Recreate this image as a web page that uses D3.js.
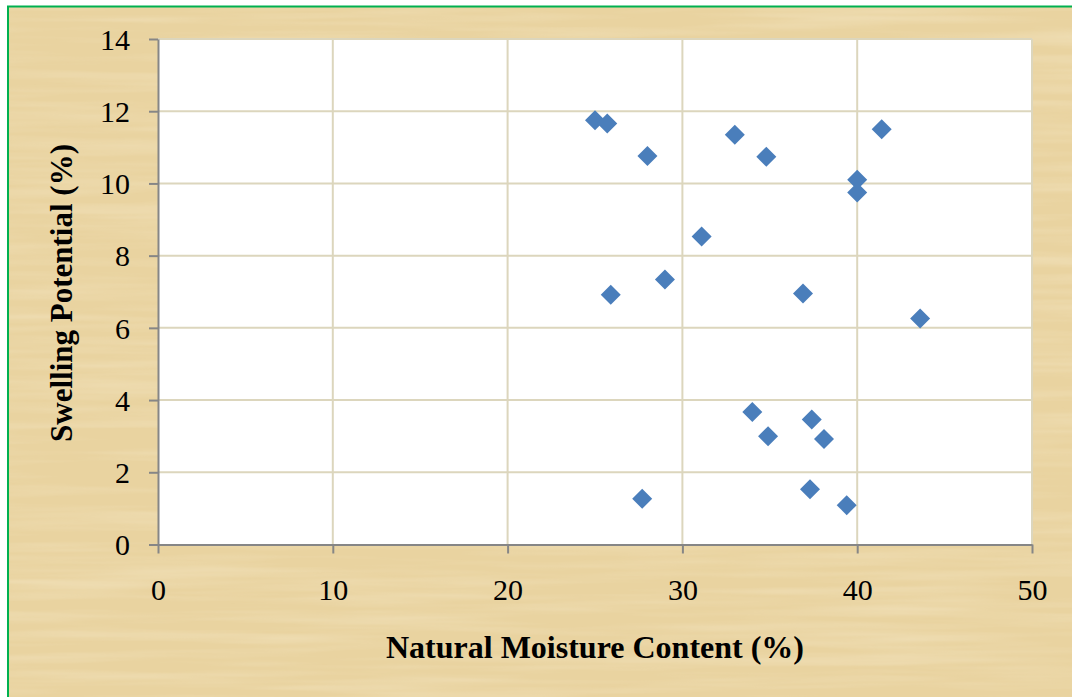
<!DOCTYPE html>
<html>
<head>
<meta charset="utf-8">
<script src="https://cdn.jsdelivr.net/npm/d3@7"></script>
<style>
html,body{margin:0;padding:0;background:#fff;}
svg{display:block;}
</style>
</head>
<body>
<script>
const moisture = [25.0, 25.7, 28.0, 33.0, 34.8, 41.4, 40.0, 40.0, 31.1, 29.0, 25.9, 36.9, 43.6, 34.0, 37.4, 34.9, 38.1, 27.7, 37.3, 39.4];
const swelling = [11.75, 11.66, 10.76, 11.35, 10.74, 11.50, 10.10, 9.75, 8.53, 7.34, 6.92, 6.95, 6.26, 3.67, 3.46, 3.00, 2.92, 1.27, 1.53, 1.09];
const xTicks = [0, 10, 20, 30, 40, 50];
const yTicks = [0, 2, 4, 6, 8, 10, 12, 14];
const xTitle = "Natural Moisture Content (%)";
const yTitle = "Swelling Potential (%)";

const W = 1072, H = 697;
const FONT = "'Liberation Serif', 'Times New Roman', serif";
const svg = d3.select("body").append("svg").attr("width", W).attr("height", H);
const defs = svg.append("defs");
const f = defs.append("filter").attr("id","paper").attr("x",0).attr("y",0).attr("width","100%").attr("height","100%");
f.append("feTurbulence").attr("type","fractalNoise").attr("baseFrequency","0.004 0.09").attr("numOctaves",3).attr("seed",4).attr("result","n");
f.append("feColorMatrix").attr("in","n").attr("type","matrix")
  .attr("values","0 0 0 0 0.98  0 0 0 0 0.92  0 0 0 0 0.76  0.55 0 0 0 -0.22").attr("result","c");
f.append("feComposite").attr("in","c").attr("in2","SourceGraphic").attr("operator","in");

svg.append("rect").attr("width",W).attr("height",H).attr("fill","#fff");
svg.append("rect").attr("x",8).attr("y",6).attr("width",W-8).attr("height",H-6).attr("fill","#E9D3A0");
svg.append("rect").attr("x",8).attr("y",6).attr("width",W-8).attr("height",H-6).attr("fill","#E9D3A0").attr("filter","url(#paper)");
svg.append("line").attr("x1",7).attr("x2",W).attr("y1",6.5).attr("y2",6.5).attr("stroke","#00B050").attr("stroke-width",2);
svg.append("line").attr("x1",8).attr("x2",8).attr("y1",6).attr("y2",H).attr("stroke","#00B050").attr("stroke-width",2);

const x = d3.scaleLinear().domain([0,50]).range([158,1032]);
const y = d3.scaleLinear().domain([0,14]).range([544.5,39]);

svg.append("rect").attr("x",x(0)).attr("y",y(14)).attr("width",x(50)-x(0)).attr("height",y(0)-y(14)).attr("fill","#fff");

const grid = svg.append("g");
grid.selectAll(".gy").data(yTicks.filter(d=>d>0)).enter().append("line")
  .attr("x1",x(0)).attr("x2",x(50)).attr("y1",d=>y(d)).attr("y2",d=>y(d))
  .attr("stroke","#DCD6BD").attr("stroke-width",2);
grid.selectAll(".gx").data(xTicks.filter(d=>d>0)).enter().append("line")
  .attr("x1",d=>x(d)).attr("x2",d=>x(d)).attr("y1",y(0)).attr("y2",y(14))
  .attr("stroke","#DCD6BD").attr("stroke-width",2);

const xAxis = svg.append("g").attr("transform",`translate(0,${y(0)})`)
  .call(d3.axisBottom(x).tickValues(xTicks).tickSize(9).tickSizeOuter(0).tickPadding(25).tickFormat(d3.format("d")));
const yAxis = svg.append("g").attr("transform",`translate(${x(0)},0)`)
  .call(d3.axisLeft(y).tickValues(yTicks).tickSize(9).tickSizeOuter(0).tickPadding(19).tickFormat(d3.format("d")));
[xAxis,yAxis].forEach(a=>{
  a.select(".domain").attr("stroke","#868686").attr("stroke-width",2);
  a.selectAll(".tick line").attr("stroke","#868686").attr("stroke-width",2);
  a.selectAll(".tick text").attr("font-family",FONT).attr("font-size",30).attr("fill","#000");
});
yAxis.selectAll(".tick text").attr("dy","0.34em");

const pts = moisture.map((m,i)=>({x:m,y:swelling[i]}));
svg.append("g").selectAll("path").data(pts).enter().append("path")
  .attr("d", d3.symbol().type(d3.symbolSquare).size(200))
  .attr("transform", d=>`translate(${x(d.x)},${y(d.y)}) rotate(45)`)
  .attr("fill","#4A7EBB");

svg.append("text").attr("x",(x(0)+x(50))/2).attr("y",658).attr("text-anchor","middle")
  .attr("font-family",FONT).attr("font-weight","bold").attr("font-size",32)
  .text(xTitle);
svg.append("text").attr("transform",`translate(72,293) rotate(-90)`).attr("text-anchor","middle")
  .attr("font-family",FONT).attr("font-weight","bold").attr("font-size",31)
  .text(yTitle);
</script>
</body>
</html>
